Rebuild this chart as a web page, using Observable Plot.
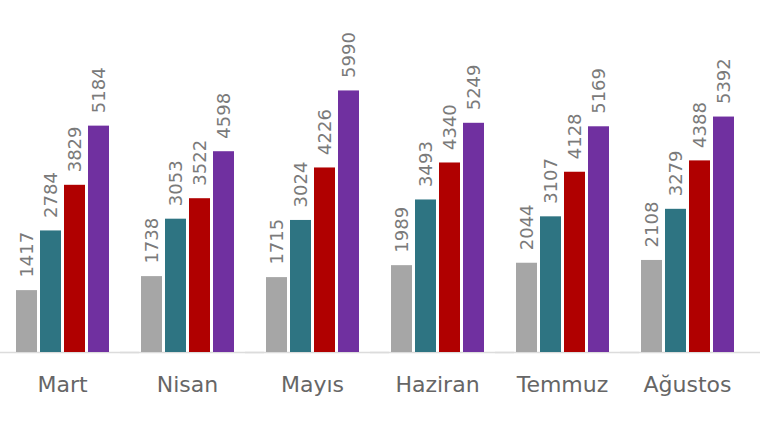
<!DOCTYPE html>
<html>
<head>
<meta charset="utf-8">
<script src="https://cdn.jsdelivr.net/npm/d3@7"></script>
<script src="https://cdn.jsdelivr.net/npm/@observablehq/plot@0.6"></script>
<style>
  html, body { margin: 0; padding: 0; background: #fff; }
  #chart svg { display: block; }
</style>
</head>
<body>
<div id="chart"></div>
<script>
const months = ["Mart", "Nisan", "Mayıs", "Haziran", "Temmuz", "Ağustos"];
const series = ["S1", "S2", "S3", "S4"];
const colors = ["#a6a6a6", "#2e7482", "#b00000", "#7030a0"];
const s1 = [1417, 1738, 1715, 1989, 2044, 2108];
const s2 = [2784, 3053, 3024, 3493, 3107, 3279];
const s3 = [3829, 3522, 4226, 4340, 4128, 4388];
const s4 = [5184, 4598, 5990, 5249, 5169, 5392];

const seriesValues = [s1, s2, s3, s4];
const data = [];
months.forEach((m, i) => {
  series.forEach((s, j) => {
    data.push({month: m, series: s, value: seriesValues[j][i]});
  });
});

const chart = Plot.plot({
  width: 760,
  height: 430,
  marginLeft: -1,
  marginRight: 9,
  marginTop: 90,
  marginBottom: 78,
  style: {fontFamily: "DejaVu Sans", background: "#fff", overflow: "visible"},
  fx: {domain: months, paddingInner: 0.246, paddingOuter: 0.123, label: null, axis: null},
  x: {domain: series, paddingInner: 0.13, paddingOuter: 0, axis: null},
  y: {domain: [0, 6000], axis: null},
  color: {domain: series, range: colors},
  marks: [
    Plot.ruleY([0], {stroke: "#dcdcdc", strokeWidth: 1.5, insetLeft: -20, insetRight: -30}),
    Plot.barY(data, {fx: "month", x: "series", y: "value", fill: "series", insetLeft: 0, insetRight: 0}),
    Plot.text(data, {
      fx: "month", x: "series", y: "value", text: d => String(d.value),
      rotate: -90, textAnchor: "start", dy: -13, fill: "#7a7a7a", fontSize: 18
    }),
    Plot.axisFx({
      domain: months, anchor: "bottom", tickSize: 0, tickPadding: 24,
      fontSize: 22, color: "#666", label: null
    })
  ]
});
document.getElementById("chart").appendChild(chart);
</script>
</body>
</html>
